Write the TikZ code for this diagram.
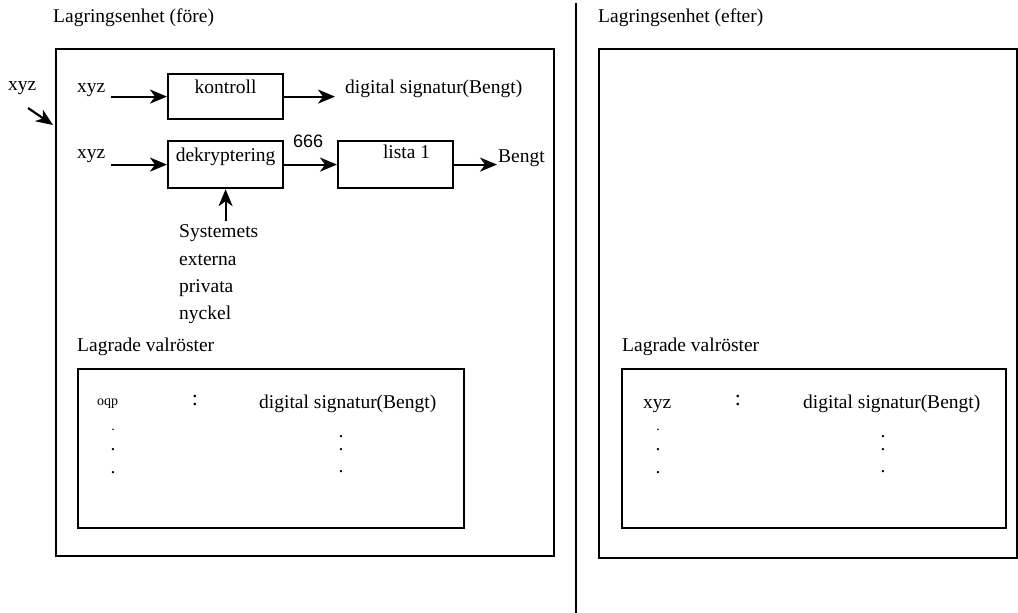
\documentclass[tikz,border=0pt]{standalone}
\usepackage{fontspec}
\setmainfont{Liberation Serif}
\newfontfamily\sansf{Liberation Sans}
\usetikzlibrary{arrows.meta}
\newcommand\mainsz{\fontsize{19.5}{23}\selectfont}
\newcommand\smallsz{\fontsize{14}{16}\selectfont}
\tikzset{
  txt/.style={font=\mainsz, inner sep=0pt, anchor=base west},
  ctxt/.style={font=\mainsz, inner sep=0pt, anchor=base},
  box/.style={draw, line width=2.2pt, inner sep=0pt, anchor=north west, font=\mainsz},
  arr/.style={line width=2.2pt, -{Stealth[length=17pt,width=14pt,inset=5pt]}},
}
\begin{document}
\begin{tikzpicture}[x=1pt,y=-1pt]
\useasboundingbox (0,0) rectangle (1018,613);
% divider
\coordinate (dvt) at (576,3);
\coordinate (dvb) at (576,613);
\draw[line width=2.2pt] (dvt) -- (dvb);
% outer boxes
\node[box, minimum width=498pt, minimum height=507pt] (outL) at (55,48) {};
\node[box, minimum width=418pt, minimum height=509pt] (outR) at (598,48) {};
\node[txt] (title1) at (53,23) {Lagringsenhet (före)};
\node[txt] (title2) at (598,22) {Lagringsenhet (efter)};
% outside input
\node[txt] (xo) at (8,90) {xyz};
\coordinate (oa) at (28,108);
\coordinate (ob) at (53,125);
\draw[arr] (oa) -- (ob);
% row 1
\node[txt] (x1) at (77,92) {xyz};
\node[box, minimum width=115pt, text height=19pt, text depth=26pt] (kbox) at (167,73) {kontroll};
\node[txt] (dsig1) at (345,93) {digital signatur(Bengt)};
\draw[arr] ([xshift=5pt]x1.east |- kbox.west) -- (kbox.west);
\draw[arr] (kbox.east) -- ([xshift=-10pt]dsig1.west |- kbox.east);
% row 2
\node[txt] (x2) at (77,158) {xyz};
\node[box, minimum width=115pt, text height=20pt, text depth=27pt] (dbox) at (167,140) {dekryptering};
\node[box, minimum width=115pt, text height=17pt, text depth=30pt] (lbox) at (337,140) {\hspace*{22pt}lista 1};
\node[inner sep=0pt, anchor=base west, font=\sansf\fontsize{18}{21}\selectfont] (n666) at (293,147) {666};
\node[txt] (bengt) at (498,162) {Bengt};
\draw[arr] ([xshift=5pt]x2.east |- dbox.west) -- (dbox.west);
\draw[arr] (dbox.east) -- (lbox.west);
\draw[arr] (lbox.east) -- ([xshift=-1pt]bengt.west |- lbox.east);
% key text
\node[txt] (s1) at (179,237) {Systemets};
\node[txt] (s2) at (179,265) {externa};
\node[txt] (s3) at (179,292) {privata};
\node[txt] (s4) at (179,319) {nyckel};
\draw[arr] ([yshift=3pt]s1.north -| dbox.south) -- (dbox.south);
% stored votes left
\node[txt] (lag1) at (77,351) {Lagrade valröster};
\node[box, minimum width=386pt, minimum height=159pt] (inL) at (77,368) {};
\node[inner sep=0pt, anchor=base west, font=\smallsz] (oqp) at (97,405) {oqp};
\node[ctxt, font=\fontsize{22}{26}\selectfont] (col1) at (195,405.5) {:};
\node[txt] (dsig2) at (259,408) {digital signatur(Bengt)};
\node[inner sep=0pt, anchor=base, font=\smallsz] (dl1) at (113,430) {.};
\node[ctxt] (dl2) at (113,450.5) {.};
\node[ctxt] (dl3) at (113,473.5) {.};
\node[ctxt] (dr1) at (341,437.5) {.};
\node[ctxt] (dr2) at (341,450.5) {.};
\node[ctxt] (dr3) at (341,472.5) {.};
% stored votes right
\node[txt] (lag2) at (622,351) {Lagrade valröster};
\node[box, minimum width=384pt, minimum height=159pt] (inR) at (621,368) {};
\node[txt] (xyzR) at (643,408) {xyz};
\node[ctxt, font=\fontsize{22}{26}\selectfont] (colR) at (738,405.5) {:};
\node[txt] (dsigR) at (803,408) {digital signatur(Bengt)};
\node[inner sep=0pt, anchor=base, font=\smallsz] (el1) at (658,430) {.};
\node[ctxt] (el2) at (658,450.5) {.};
\node[ctxt] (el3) at (658,473.5) {.};
\node[ctxt] (er1) at (883,437.5) {.};
\node[ctxt] (er2) at (883,450.5) {.};
\node[ctxt] (er3) at (883,472.5) {.};
\end{tikzpicture}
\end{document}
